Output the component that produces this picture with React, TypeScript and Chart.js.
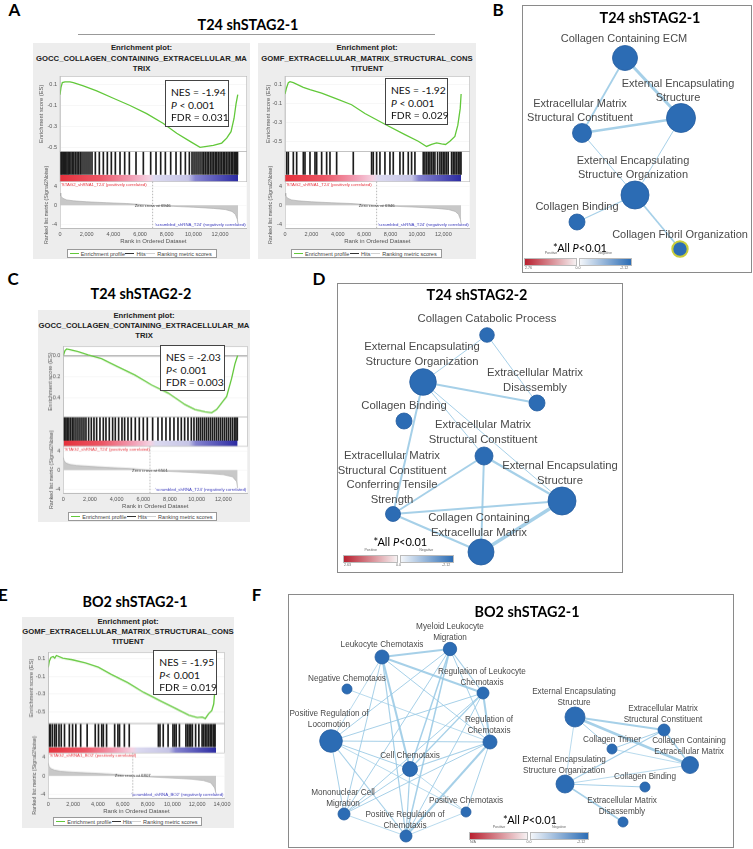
import React, { useEffect, useRef } from 'react';
import { Chart, registerables } from 'chart.js';

Chart.register(...registerables);

const ARIAL = '"Liberation Sans", Arial, Helvetica, sans-serif';
const LATO = 'Lato, "Open Sans", "DejaVu Sans", sans-serif';

// ================= GSEA DATA =================
const X_TICKS_12K = [0, 2000, 4000, 6000, 8000, 10000, 12000];
const X_TICKS_14K = [0, 2000, 4000, 6000, 8000, 10000, 12000, 14000];
const RANK_TICKS = [4, 2, 0, -2, -4];
const ES_TICKS_A1 = [0.1, 0, -0.1, -0.2, -0.3, -0.4, -0.5];
const ES_TICKS_A2 = [0.1, 0, -0.1, -0.2, -0.3, -0.4, -0.5, -0.6];
const ES_TICKS_C = [0, -0.1, -0.2, -0.3, -0.4, -0.5];
const ES_TICKS_E = [0.1, 0, -0.1, -0.2, -0.3, -0.4, -0.5, -0.6];

// Panel A, left: GOCC collagen containing ECM (T24 shSTAG2-1)
const A1_ES_X = [0, 75, 175, 375, 750, 1000, 1750, 2750, 4000, 5250, 6500, 7750, 8750, 9750, 10500, 11000, 11500, 12125, 12500, 12825, 13050, 13200, 13330];
const A1_ES_Y = [0, 0.069, 0.115, 0.121, 0.121, 0.115, 0.084, 0.037, -0.034, -0.103, -0.181, -0.274, -0.368, -0.445, -0.502, -0.492, -0.483, -0.461, -0.414, -0.352, -0.227, -0.087, 0];
const A1_HITS = [20, 90, 160, 260, 340, 430, 520, 610, 700, 820, 930, 1040, 1160, 1280, 1400, 1520, 1650, 1800, 1950, 2100, 2250, 2400, 2650, 2950, 3250, 3550, 3850, 4150, 4500, 4850, 5200, 5700, 6250, 6800, 7200, 7550, 7900, 8300, 8700, 9050, 9400, 9700, 9900, 10050, 10200, 10350, 10500, 10650, 10780, 10900, 11030, 11150, 11280, 11400, 11520, 11640, 11760, 11880, 12000, 12120, 12240, 12360, 12480, 12600, 12720, 12840, 12950, 13060, 13160, 13250, 13310];
const A1_NES = ['-1.94', ' < 0.001', '0.031'];

// Panel A, right: GOMF ECM structural constituent (T24 shSTAG2-1)
const A2_ES_X = [0, 126, 252, 379, 631, 1389, 1894, 2778, 3914, 5050, 6060, 7575, 9090, 10100, 10731, 11110, 11489, 11868, 12170, 12500, 12877, 13100, 13280, 13350];
const A2_ES_Y = [0, 0.069, 0.12, 0.131, 0.12, 0.069, 0.045, 0.01, -0.052, -0.114, -0.207, -0.32, -0.43, -0.5, -0.555, -0.534, -0.517, -0.528, -0.534, -0.5, -0.45, -0.33, -0.155, 0];
const A2_HITS = [126, 252, 631, 884, 1389, 1515, 1894, 2273, 2399, 2778, 3156, 3409, 3914, 5176, 6565, 6691, 6944, 7196, 7575, 7954, 8207, 8712, 8964, 9343, 9595, 9848, 10479, 10605, 10731, 10857, 10984, 11110, 11236, 11363, 11565, 11741, 11868, 11994, 12120, 12247, 12373, 12625, 12752, 12878, 13004, 13130, 13257, 13340];
const A2_NES = ['-1.92', ' < 0.001', '0.029'];

// T24 shSTAG2-1 ranked list (shared by both A plots)
const T24_SH1_RANK_X = [0, 60, 200, 500, 1000, 2000, 3500, 5000, 6946, 8500, 10000, 11500, 12400, 12900, 13150, 13300, 13350];
const T24_SH1_RANK_Y = [2.6, 2.0, 1.5, 1.15, 0.95, 0.75, 0.55, 0.38, 0, -0.22, -0.4, -0.65, -0.9, -1.3, -1.9, -3.0, -3.9];
const T24_SH1_N = 13350;
const T24_SH1_ZERO = 6946;

// Panel C: GOCC collagen containing ECM (T24 shSTAG2-2)
const C_ES_X = [0, 125, 250, 500, 1125, 1875, 2875, 4125, 5375, 6625, 7875, 9125, 9875, 10625, 11125, 11500, 11875, 12250, 12625, 12875, 13075];
const C_ES_Y = [0, 0.046, 0.062, 0.056, 0.037, 0.006, -0.031, -0.108, -0.185, -0.278, -0.355, -0.463, -0.509, -0.531, -0.54, -0.509, -0.448, -0.386, -0.216, -0.077, 0];
const C_HITS = [30, 110, 200, 300, 420, 550, 680, 800, 950, 1100, 1250, 1400, 1550, 1700, 1900, 2100, 2300, 2500, 2750, 3000, 3200, 3450, 3700, 3900, 4150, 4400, 4600, 4850, 5100, 5400, 5700, 6000, 6300, 6700, 7100, 7400, 7700, 8000, 8300, 8600, 8850, 9100, 9350, 9600, 9800, 10000, 10150, 10300, 10450, 10600, 10750, 10900, 11050, 11200, 11350, 11500, 11650, 11800, 11950, 12100, 12250, 12400, 12550, 12700, 12850, 12950, 13050];
const C_RANK_X = [0, 60, 200, 500, 1000, 2000, 3500, 5000, 6501, 8000, 9500, 11000, 12000, 12700, 13000, 13075];
const C_RANK_Y = [2.7, 2.0, 1.5, 1.2, 1.0, 0.8, 0.55, 0.35, 0, -0.25, -0.45, -0.7, -0.95, -1.4, -2.4, -3.8];
const C_N = 13075;
const C_ZERO = 6501;
const C_NES = ['-2.03', '< 0.001', '0.003'];

// Panel E: GOMF ECM structural constituent (BO2 shSTAG2-1)
const E_ES_X = [0, 78, 209, 391, 522, 652, 1174, 1957, 3000, 4044, 5088, 6392, 7696, 9000, 10305, 11348, 12000, 12392, 12653, 12914, 13175, 13332, 13437, 13514];
const E_ES_Y = [0, 0.066, 0.11, 0.121, 0.103, 0.132, 0.103, 0.084, 0.048, 0, -0.081, -0.172, -0.282, -0.374, -0.465, -0.538, -0.564, -0.557, -0.575, -0.52, -0.484, -0.41, -0.227, 0];
const E_HITS = [78, 183, 339, 522, 652, 861, 1044, 1305, 1696, 1957, 2218, 2609, 3131, 3783, 4044, 4305, 4435, 4696, 5348, 5609, 5740, 6131, 6523, 8871, 9001, 9262, 9653, 10045, 10175, 10306, 10566, 11088, 11219, 11349, 11480, 11610, 11871, 12132, 12393, 12523, 12654, 12784, 12915, 13045, 13175, 13306, 13384, 13436];
const E_RANK_X = [0, 60, 200, 500, 1000, 2000, 3500, 5000, 6807, 8500, 10000, 11500, 12500, 13100, 13400, 13514];
const E_RANK_Y = [2.8, 2.1, 1.6, 1.25, 1.0, 0.8, 0.6, 0.4, 0, -0.25, -0.45, -0.7, -1.0, -1.5, -2.6, -3.8];
const E_N = 13514;
const E_ZERO = 6807;
const E_NES = ['-1.95', '< 0.001', '0.019'];

// ================= NETWORK DATA =================
const B_NAMES = ['Collagen Containing ECM', 'External Encapsulating\nStructure', 'Extracellular Matrix\nStructural Constituent', 'External Encapsulating\nStructure Organization', 'Collagen Binding', 'Collagen Fibril Organization'];
const B_X = [103, 159, 60, 113, 55, 158];
const B_Y = [53, 113, 128, 190, 217, 244];
const B_SIZE = [12.5, 14.5, 9.5, 14, 8, 7.7];
const B_LX = [102, 156, 58, 111, 55, 158];
const B_LY = [34, 79, 99, 156, 202, 230];
const B_EDGES = [[0, 1, 3], [0, 2, 1.8], [2, 1, 2.4], [2, 3, 1], [1, 3, 1], [3, 4, 1.2], [3, 5, 1.8]];
const B_HIGHLIGHT = [5];

const D_NAMES = ['Collagen Catabolic Process', 'External Encapsulating\nStructure Organization', 'Extracellular Matrix\nDisassembly', 'Collagen Binding', 'Extracellular Matrix\nStructural Constituent', 'Extracellular Matrix\nStructural Constituent\nConferring Tensile\nStrength', 'External Encapsulating\nStructure', 'Collagen Containing\nExtracellular Matrix'];
const D_X = [150, 86, 200, 67, 147, 56, 225, 144];
const D_Y = [52, 99, 120, 138, 173, 231, 218, 269];
const D_SIZE = [7.3, 13.3, 8, 8, 9, 7.5, 14, 13];
const D_LX = [150, 85, 198, 67, 146, 55, 223, 142];
const D_LY = [36, 64, 90, 123, 142, 173, 183, 235];
const D_EDGES = [[0, 1, 1], [0, 2, 1], [1, 2, 2], [1, 5, 2], [1, 4, 1], [1, 6, 1], [4, 5, 2], [4, 7, 2], [4, 6, 2.4], [5, 6, 2], [5, 7, 2], [6, 7, 3.5]];

const F_NAMES = ['Myeloid Leukocyte\nMigration', 'Leukocyte Chemotaxis', 'Negative Chemotaxis', 'Regulation of Leukocyte\nChemotaxis', 'Positive Regulation of\nLocomotion', 'Regulation of\nChemotaxis', 'Cell Chemotaxis', 'Mononuclear Cell\nMigration', 'Positive Chemotaxis', 'Positive Regulation of\nChemotaxis', 'External Encapsulating\nStructure', 'Extracellular Matrix\nStructural Constituent', 'Collagen Trimer', 'Collagen Containing\nExtracellular Matrix', 'External Encapsulating\nStructure Organization', 'Collagen Binding', 'Extracellular Matrix\nDisassembly'];
const F_X = [162, 94, 59, 195, 43, 202, 122, 56, 178, 118, 287, 376, 324, 402, 277, 357, 335];
const F_Y = [55, 63, 95, 99, 147, 148, 175, 220, 218, 242, 123, 136, 155, 171, 190, 193, 228];
const F_SIZE = [6.7, 7, 5, 6, 11.3, 7, 7.5, 6, 5, 6, 10, 6, 5, 8.5, 9, 5, 5];
const F_LX = [162, 94, 59, 194, 41, 201, 122, 55, 178, 117, 286, 375, 324, 401, 276, 357, 334];
const F_LY = [33, 51, 85, 78, 120, 126, 162, 199, 207, 221, 98, 115, 146, 147, 166, 183, 207];
const F_EDGES = [
  [1, 0, 2], [1, 3, 2], [1, 6, 2], [1, 9, 1.2], [1, 7, 1], [1, 5, 1], [1, 4, 0.8],
  [0, 3, 1.2], [0, 6, 1.5], [0, 5, 1], [0, 9, 1.5], [0, 7, 1], [0, 4, 1],
  [3, 5, 2], [3, 6, 1.2], [3, 4, 1], [3, 9, 1], [3, 7, 1], [2, 5, 0.8],
  [4, 5, 1.2], [4, 6, 1], [4, 7, 1], [4, 9, 1.2], [4, 8, 0.8],
  [6, 5, 1.2], [6, 9, 1.2], [6, 7, 1], [6, 8, 0.8], [5, 9, 2], [5, 7, 1], [5, 8, 1], [8, 9, 0.8], [7, 9, 0.8],
  [10, 11, 2], [10, 13, 2.5], [10, 12, 1], [10, 14, 0.8], [11, 13, 1.5], [11, 12, 1], [11, 14, 1.2], [12, 13, 0.8], [14, 15, 1.2], [14, 16, 1.5], [14, 13, 0.8],
];

// ================= LAYOUT CONFIGS =================
const POS_T24_1 = "'STAG2_shRNA1_T24' (positively correlated)";
const NEG_T24 = "'scrambled_shRNA_T24' (negatively correlated)";

const GSEA_A1 = {
  box: { x: 33, y: 43, w: 217, h: 216 }, plot: { l: 60, r: 246.7, t: 73.3, b: 228.3 }, weights: [76.7, 24, 7, 47.3],
  titleLines: ['Enrichment plot:', 'GOCC_COLLAGEN_CONTAINING_EXTRACELLULAR_MA', 'TRIX'], titleY: [48, 58.5, 69],
  esMin: -0.54, esMax: 0.175, esTicks: ES_TICKS_A1, xMax: 14000, xTicks: X_TICKS_12K,
  esX: A1_ES_X, esY: A1_ES_Y, hits: A1_HITS, rankX: T24_SH1_RANK_X, rankY: T24_SH1_RANK_Y, n: T24_SH1_N, zero: T24_SH1_ZERO,
  posLabel: POS_T24_1, negLabel: NEG_T24, zeroLabel: 'Zero cross at 6946', esTitleX: 5.4, rankTitleX: 10.5,
  nes: A1_NES, nesBox: { x: 165, y: 80, w: 64.3, h: 46.7 }, legend: { x: 66.7, y: 249, w: 150 },
};
const GSEA_A2 = {
  box: { x: 258, y: 43, w: 218, h: 216 }, plot: { l: 285, r: 469.7, t: 73.3, b: 228.3 }, weights: [76.7, 24, 7, 47.3],
  titleLines: ['Enrichment plot:', 'GOMF_EXTRACELLULAR_MATRIX_STRUCTURAL_CONS', 'TITUENT'], titleY: [48, 58.5, 69],
  esMin: -0.607, esMax: 0.187, esTicks: ES_TICKS_A2, xMax: 14000, xTicks: X_TICKS_12K,
  esX: A2_ES_X, esY: A2_ES_Y, hits: A2_HITS, rankX: T24_SH1_RANK_X, rankY: T24_SH1_RANK_Y, n: T24_SH1_N, zero: T24_SH1_ZERO,
  posLabel: POS_T24_1, negLabel: NEG_T24, zeroLabel: 'Zero cross at 6946', esTitleX: 7, rankTitleX: 9,
  nes: A2_NES, nesBox: { x: 385, y: 78.3, w: 62.7, h: 46.7 }, legend: { x: 291, y: 249, w: 150.7 },
};
const GSEA_C = {
  box: { x: 38, y: 310, w: 212, h: 212 }, plot: { l: 63.3, r: 247.3, t: 343.3, b: 492.7 }, weights: [72, 24, 6, 47.4],
  titleLines: ['Enrichment plot:', 'GOCC_COLLAGEN_CONTAINING_EXTRACELLULAR_MA', 'TRIX'], titleY: [316, 325.5, 336],
  esMin: -0.58, esMax: 0.087, esTicks: ES_TICKS_C, xMax: 13800, xTicks: X_TICKS_12K,
  esX: C_ES_X, esY: C_ES_Y, hits: C_HITS, rankX: C_RANK_X, rankY: C_RANK_Y, n: C_N, zero: C_ZERO,
  posLabel: "'STAG2_shRNA2_T24' (positively correlated)", negLabel: NEG_T24, zeroLabel: 'Zero cross at 6501', esTitleX: 8.5, rankTitleX: 10.5,
  nes: C_NES, nesBox: { x: 160, y: 345.3, w: 65, h: 45.7 }, legend: { x: 68.3, y: 512, w: 148.4 },
};
const GSEA_E = {
  box: { x: 22, y: 617, w: 212, h: 211 }, plot: { l: 48.3, r: 230, t: 649, b: 797.7 }, weights: [72.7, 24, 6, 46],
  titleLines: ['Enrichment plot:', 'GOMF_EXTRACELLULAR_MATRIX_STRUCTURAL_CONS', 'TITUENT'], titleY: [622, 632, 642],
  esMin: -0.63, esMax: 0.168, esTicks: ES_TICKS_E, xMax: 14200, xTicks: X_TICKS_14K,
  esX: E_ES_X, esY: E_ES_Y, hits: E_HITS, rankX: E_RANK_X, rankY: E_RANK_Y, n: E_N, zero: E_ZERO,
  posLabel: "'STAG2_shRNA1_BO2' (positively correlated)", negLabel: "'scrambled_shRNA_BO2' (negatively correlated)", zeroLabel: 'Zero cross at 6807', esTitleX: 6.4, rankTitleX: 9.7,
  nes: E_NES, nesBox: { x: 153.3, y: 650, w: 63.4, h: 45 }, legend: { x: 53.3, y: 817, w: 148.4 },
};

const NET_B = { box: { x: 522, y: 5, w: 230, h: 268 }, names: B_NAMES, xs: B_X, ys: B_Y, rs: B_SIZE, lxs: B_LX, lys: B_LY, edges: B_EDGES, font: 11, lh: 13.5, highlight: B_HIGHLIGHT };
const NET_D = { box: { x: 337, y: 283, w: 286, h: 290 }, names: D_NAMES, xs: D_X, ys: D_Y, rs: D_SIZE, lxs: D_LX, lys: D_LY, edges: D_EDGES, font: 11.3, lh: 14.5, highlight: [] };
const NET_F = { box: { x: 288, y: 594, w: 446, h: 254 }, names: F_NAMES, xs: F_X, ys: F_Y, rs: F_SIZE, lxs: F_LX, lys: F_LY, edges: F_EDGES, font: 8.2, lh: 10.3, highlight: [] };

// ================= COMPONENTS =================
function Txt({ x, y, children, style, sx = 1 }: any) {
  return (
    <div style={{ position: 'absolute', left: x, top: y, transform: `translate(-50%,-50%) scaleX(${sx})`, whiteSpace: 'nowrap', lineHeight: 1, ...style }}>{children}</div>
  );
}

function GseaChart({ cfg }: any) {
  const ref = useRef<HTMLCanvasElement>(null);
  const padTop = 3;
  const xAxisH = 17;
  const cw = cfg.box.w;
  const ch = cfg.plot.b - cfg.plot.t + padTop + xAxisH;
  useEffect(() => {
    const c = cfg;
    const yW = c.plot.l - c.box.x;
    const padR = c.box.x + c.box.w - c.plot.r;
    const tickFont = { size: 5.5, family: ARIAL };
    const fixW = (s: any) => { s.width = yW; };
    const setTicks = (vals: number[]) => (s: any) => { s.ticks = vals.map((v) => ({ value: v })); };
    const colorFill = (ctx: any) => {
      const chart = ctx.chart;
      if (!chart.chartArea) return '#ccc';
      const xs = chart.scales.x;
      const g = chart.ctx.createLinearGradient(xs.getPixelForValue(0), 0, xs.getPixelForValue(c.n), 0);
      const stops: [number, string][] = [[0, '#e5303b'], [0.22, '#ec5665'], [0.4, '#f29fb5'], [0.5, '#f5d2e2'], [0.53, '#dcdaf0'], [0.72, '#c6c5e6'], [0.76, '#8583cf'], [1, '#2b2aa2']];
      stops.forEach(([o, col]) => g.addColorStop(o, col));
      return g;
    };
    const decor = {
      id: 'gseaDecor',
      beforeDraw(chart: any) {
        const { ctx, chartArea: a } = chart;
        ctx.save();
        ctx.fillStyle = '#ffffff';
        ctx.fillRect(a.left, a.top, a.right - a.left, a.bottom - a.top);
        ctx.restore();
      },
      afterDatasetsDraw(chart: any) {
        const { ctx, chartArea: a, scales } = chart;
        const yR = scales.yRank, yE = scales.yES, yH = scales.yHits, yC = scales.yColor, x = scales.x;
        ctx.save();
        ctx.strokeStyle = '#b8b8b8';
        ctx.lineWidth = 0.6;
        ctx.strokeRect(a.left, yE.top, a.right - a.left, yE.bottom - yE.top);
        ctx.strokeRect(a.left, yH.top, a.right - a.left, yC.bottom - yH.top);
        const zx = x.getPixelForValue(c.zero);
        ctx.setLineDash([1.5, 1.5]);
        ctx.strokeStyle = '#888';
        ctx.beginPath();
        ctx.moveTo(zx, yR.top);
        ctx.lineTo(zx, yR.bottom);
        ctx.stroke();
        ctx.setLineDash([]);
        ctx.font = `4.3px ${ARIAL}`;
        ctx.fillStyle = '#e8323c';
        ctx.textAlign = 'left';
        ctx.textBaseline = 'top';
        ctx.fillText(c.posLabel, a.left + 1, yR.top + 0.8);
        ctx.fillStyle = '#3c3cc0';
        ctx.textAlign = 'right';
        ctx.textBaseline = 'bottom';
        ctx.fillText(c.negLabel, a.right - 1, yR.bottom - 0.8);
        ctx.fillStyle = '#333';
        ctx.textAlign = 'center';
        ctx.textBaseline = 'middle';
        ctx.fillText(c.zeroLabel, zx, yR.getPixelForValue(0));
        ctx.restore();
      },
    };
    const chart = new Chart(ref.current as HTMLCanvasElement, {
      type: 'line',
      data: {
        datasets: [
          { type: 'line', label: 'Enrichment profile', yAxisID: 'yES', data: c.esX.map((x: number, i: number) => ({ x, y: c.esY[i] })), borderColor: '#62c83a', borderWidth: 1.3, pointRadius: 0, fill: false, tension: 0 } as any,
          { type: 'bar', label: 'Hits', yAxisID: 'yHits', data: c.hits.map((x: number) => ({ x, y: 1 })), backgroundColor: '#1c1c1c', barThickness: 1, borderWidth: 0 } as any,
          { type: 'line', label: 'Colour', yAxisID: 'yColor', data: [{ x: 0, y: 1 }, { x: c.n, y: 1 }], borderWidth: 0, pointRadius: 0, fill: 'origin', backgroundColor: colorFill } as any,
          { type: 'line', label: 'Ranking metric scores', yAxisID: 'yRank', data: c.rankX.map((x: number, i: number) => ({ x, y: c.rankY[i] })), borderColor: '#a8a8a8', borderWidth: 0.6, pointRadius: 0, fill: 'origin', backgroundColor: '#c8c8c8', tension: 0 } as any,
        ],
      },
      options: {
        animation: false,
        responsive: false,
        devicePixelRatio: 1,
        events: [],
        layout: { padding: { left: 0, right: padR, top: padTop, bottom: 0 }, autoPadding: false },
        plugins: { legend: { display: false }, tooltip: { enabled: false } },
        scales: {
          x: {
            type: 'linear', min: 0, max: c.xMax, offset: false, position: 'bottom',
            grid: { display: false, drawTicks: false }, border: { color: '#999', width: 0.6 },
            ticks: { font: tickFont, color: '#555', padding: 3.5, maxRotation: 0, autoSkip: false, callback: (v: any) => Number(v).toLocaleString('en-US') },
            afterBuildTicks: setTicks(c.xTicks), afterFit: (s: any) => { s.height = xAxisH; },
            title: { display: true, text: 'Rank in Ordered Dataset', font: { size: 6, family: ARIAL }, color: '#555', padding: 0 },
          },
          yRank: {
            type: 'linear', position: 'left', stack: 'g', stackWeight: c.weights[3], min: -4.8, max: 5,
            afterBuildTicks: setTicks(RANK_TICKS), afterFit: fixW,
            grid: { color: '#f2f2f2', drawTicks: false, lineWidth: 0.5 }, border: { color: '#b8b8b8', width: 0.6 },
            ticks: { font: tickFont, color: '#555', padding: 3 },
            title: { display: true, text: 'Ranked list metric (Signal2Noise)', font: { size: 5.3, family: ARIAL }, color: '#555', padding: { top: c.rankTitleX, bottom: 0 } },
          },
          yColor: {
            type: 'linear', position: 'left', stack: 'g', stackWeight: c.weights[2], min: 0, max: 1,
            afterFit: fixW, grid: { display: false }, border: { display: false }, ticks: { display: false },
          },
          yHits: {
            type: 'linear', position: 'left', stack: 'g', stackWeight: c.weights[1], min: 0, max: 1,
            afterFit: fixW, grid: { display: false }, border: { display: false }, ticks: { display: false },
          },
          yES: {
            type: 'linear', position: 'left', stack: 'g', stackWeight: c.weights[0], min: c.esMin, max: c.esMax,
            afterBuildTicks: setTicks(c.esTicks), afterFit: fixW,
            grid: {
              drawTicks: false,
              color: (ctx: any) => (ctx.tick && Math.abs(ctx.tick.value) < 1e-9 ? '#b4b4b4' : '#efefef'),
              lineWidth: (ctx: any) => (ctx.tick && Math.abs(ctx.tick.value) < 1e-9 ? 1.4 : 0.5),
            },
            border: { color: '#b8b8b8', width: 0.6 },
            ticks: { font: tickFont, color: '#555', padding: 3, callback: (v: any) => Number(v).toFixed(1) },
            title: { display: true, text: 'Enrichment score (ES)', font: { size: 5.8, family: ARIAL }, color: '#555', padding: { top: c.esTitleX, bottom: 0 } },
          },
        } as any,
      },
      plugins: [decor],
    });
    return () => chart.destroy();
  }, [cfg]);
  return <canvas ref={ref} width={cw} height={ch} style={{ position: 'absolute', left: cfg.box.x, top: cfg.plot.t - padTop, width: cw, height: ch }} />;
}

function GseaLegend({ x, y, w }: any) {
  const item = (color: string, text: string, lw: number) => (
    <span style={{ display: 'inline-flex', alignItems: 'center', gap: 2 }}>
      <span style={{ display: 'inline-block', width: 9, height: 0, borderTop: `${lw}px solid ${color}` }} />
      <span>{text}</span>
    </span>
  );
  return (
    <div style={{ position: 'absolute', left: x, top: y, width: w, height: 9, boxSizing: 'border-box', border: '0.8px solid #999', background: '#fff', display: 'flex', alignItems: 'center', justifyContent: 'space-between', padding: '0 4px 0 2px', fontSize: 5.5, color: '#444', fontFamily: ARIAL, whiteSpace: 'nowrap' }}>
      {item('#62c83a', 'Enrichment profile', 1.2)}
      {item('#333', 'Hits', 1)}
      {item('#d0d0d0', 'Ranking metric scores', 1)}
    </div>
  );
}

function NesBox({ box, vals }: any) {
  const st = { position: 'absolute' as const, left: 5, fontSize: 10.3, fontFamily: LATO, color: '#111', whiteSpace: 'nowrap' as const, lineHeight: 1, transform: 'translateY(-50%)' };
  return (
    <div style={{ position: 'absolute', left: box.x, top: box.y, width: box.w, height: box.h, boxSizing: 'border-box', border: '1.5px solid #444', background: '#fff' }}>
      <div style={{ ...st, top: 11.2 }}>NES = {vals[0]}</div>
      <div style={{ ...st, top: 23.8 }}><i>P</i>{vals[1]}</div>
      <div style={{ ...st, top: 36.2 }}>FDR = {vals[2]}</div>
    </div>
  );
}

function GseaPanel({ cfg }: any) {
  return (
    <>
      <div style={{ position: 'absolute', left: cfg.box.x, top: cfg.box.y, width: cfg.box.w, height: cfg.box.h, background: '#ededed' }} />
      {cfg.titleLines.map((t: string, i: number) => (
        <Txt key={i} x={cfg.box.x + cfg.box.w / 2} y={cfg.titleY[i]} style={{ fontSize: 7.7, fontWeight: 700, fontFamily: ARIAL, color: '#222' }}>{t}</Txt>
      ))}
      <GseaChart cfg={cfg} />
      <GseaLegend {...cfg.legend} />
      <NesBox box={cfg.nesBox} vals={cfg.nes} />
    </>
  );
}

function Network({ cfg }: any) {
  const ref = useRef<HTMLCanvasElement>(null);
  useEffect(() => {
    const c = cfg;
    const labels = {
      id: 'nodeLabels',
      afterDatasetsDraw(chart: any) {
        const { ctx, scales } = chart;
        ctx.save();
        ctx.font = `${c.font}px ${ARIAL}`;
        ctx.fillStyle = '#4a4a4a';
        ctx.textAlign = 'center';
        ctx.textBaseline = 'middle';
        c.names.forEach((name: string, i: number) => {
          name.split('\n').forEach((ln: string, j: number) => {
            ctx.fillText(ln, scales.x.getPixelForValue(c.lxs[i]), scales.y.getPixelForValue(c.lys[i] + j * c.lh));
          });
        });
        ctx.restore();
      },
    };
    const edgeSets = c.edges.map(([a, b, w]: number[]) => ({
      type: 'line', data: [{ x: c.xs[a], y: c.ys[a] }, { x: c.xs[b], y: c.ys[b] }],
      borderColor: 'rgba(150,200,228,0.85)', borderWidth: w, pointRadius: 0, fill: false, order: 2,
    }));
    const chart = new Chart(ref.current as HTMLCanvasElement, {
      type: 'scatter',
      data: {
        datasets: [
          ...edgeSets,
          {
            type: 'scatter', data: c.xs.map((x: number, i: number) => ({ x, y: c.ys[i] })),
            pointRadius: c.rs, backgroundColor: '#2c6cb4',
            borderColor: c.xs.map((_: number, i: number) => (c.highlight.includes(i) ? '#c9cc3a' : '#245d9f')),
            borderWidth: c.xs.map((_: number, i: number) => (c.highlight.includes(i) ? 2 : 0.8)), order: 1,
          },
        ] as any,
      },
      options: {
        animation: false, responsive: false, devicePixelRatio: 1, events: [],
        layout: { padding: 0, autoPadding: false },
        plugins: { legend: { display: false }, tooltip: { enabled: false } },
        scales: {
          x: { type: 'linear', min: 0, max: c.box.w, display: false },
          y: { type: 'linear', min: 0, max: c.box.h, reverse: true, display: false },
        },
      },
      plugins: [labels],
    });
    return () => chart.destroy();
  }, [cfg]);
  return <canvas ref={ref} width={cfg.box.w} height={cfg.box.h} style={{ position: 'absolute', left: cfg.box.x, top: cfg.box.y, width: cfg.box.w, height: cfg.box.h }} />;
}

function NetFrame({ box }: any) {
  return <div style={{ position: 'absolute', left: box.x, top: box.y, width: box.w, height: box.h, boxSizing: 'border-box', border: '1px solid #8a8a8a' }} />;
}

function ColorBar({ x, y, w, left }: any) {
  const half = w / 2;
  const small = { fontSize: 3.6, color: '#666', fontFamily: ARIAL };
  return (
    <>
      <div style={{ position: 'absolute', left: x, top: y, width: half - 1, height: 8, boxSizing: 'border-box', border: '0.5px solid #bbb', background: 'linear-gradient(to right, #b8202f, #f6f1f2)' }} />
      <div style={{ position: 'absolute', left: x + half + 1, top: y, width: half - 1, height: 8, boxSizing: 'border-box', border: '0.5px solid #bbb', background: 'linear-gradient(to right, #f3f6fa, #2c6db5)' }} />
      <Txt x={x + half / 2} y={y - 4.5} style={small}>Positive</Txt>
      <Txt x={x + half * 1.5} y={y - 4.5} style={small}>Negative</Txt>
      <div style={{ position: 'absolute', left: x + 1, top: y + 9, ...small, lineHeight: 1 }}>{left}</div>
      <Txt x={x + half} y={y + 11} style={small}>0.0</Txt>
      <div style={{ position: 'absolute', left: x + w - 12, top: y + 9, ...small, lineHeight: 1 }}>-2.12</div>
    </>
  );
}

const letterStyle = { fontSize: 17, fontWeight: 700, fontFamily: LATO, color: '#000' };
const titleStyle = { fontSize: 16, fontWeight: 700, fontFamily: LATO, color: '#000' };
const allPStyle = { fontSize: 11, fontFamily: LATO, color: '#000' };

export default function App() {
  return (
    <div style={{ position: 'absolute', left: 0, top: 0, width: 753, height: 849, background: '#fff', overflow: 'hidden', fontFamily: ARIAL }}>
      {/* Panel letters */}
      <Txt x={14.5} y={9} style={letterStyle}>A</Txt>
      <Txt x={498} y={8.5} style={letterStyle}>B</Txt>
      <Txt x={13} y={277.5} style={letterStyle}>C</Txt>
      <Txt x={319} y={277.5} style={letterStyle}>D</Txt>
      <Txt x={3} y={593.5} style={letterStyle}>E</Txt>
      <Txt x={256.5} y={593.5} style={letterStyle}>F</Txt>

      {/* Panel A */}
      <Txt x={247.5} y={24} sx={0.9} style={titleStyle}>T24 shSTAG2-1</Txt>
      <div style={{ position: 'absolute', left: 78, top: 34, width: 357, height: 1, background: '#999' }} />
      <GseaPanel cfg={GSEA_A1} />
      <GseaPanel cfg={GSEA_A2} />

      {/* Panel B */}
      <Network cfg={NET_B} />
      <NetFrame box={NET_B.box} />
      <Txt x={649.5} y={16.7} sx={0.9} style={titleStyle}>T24 shSTAG2-1</Txt>
      <Txt x={580} y={246.7} style={allPStyle}>*All <i>P</i>&lt;0.01</Txt>
      <ColorBar x={524} y={258} w={108} left="2.76" />

      {/* Panel C */}
      <Txt x={141} y={292.5} sx={0.9} style={titleStyle}>T24 shSTAG2-2</Txt>
      <GseaPanel cfg={GSEA_C} />

      {/* Panel D */}
      <Network cfg={NET_D} />
      <NetFrame box={NET_D.box} />
      <Txt x={477} y={294} sx={0.9} style={titleStyle}>T24 shSTAG2-2</Txt>
      <Txt x={400.3} y={541} style={allPStyle}>*All <i>P</i>&lt;0.01</Txt>
      <ColorBar x={343} y={555} w={111} left="2.63" />

      {/* Panel E */}
      <Txt x={135} y={601} sx={0.9} style={titleStyle}>BO2 shSTAG2-1</Txt>
      <GseaPanel cfg={GSEA_E} />

      {/* Panel F */}
      <Network cfg={NET_F} />
      <NetFrame box={NET_F.box} />
      <Txt x={526.5} y={611} sx={0.9} style={titleStyle}>BO2 shSTAG2-1</Txt>
      <Txt x={530} y={819} style={allPStyle}>*All <i>P</i>&lt;0.01</Txt>
      <ColorBar x={469} y={832} w={120} left="N/A" />
    </div>
  );
}
